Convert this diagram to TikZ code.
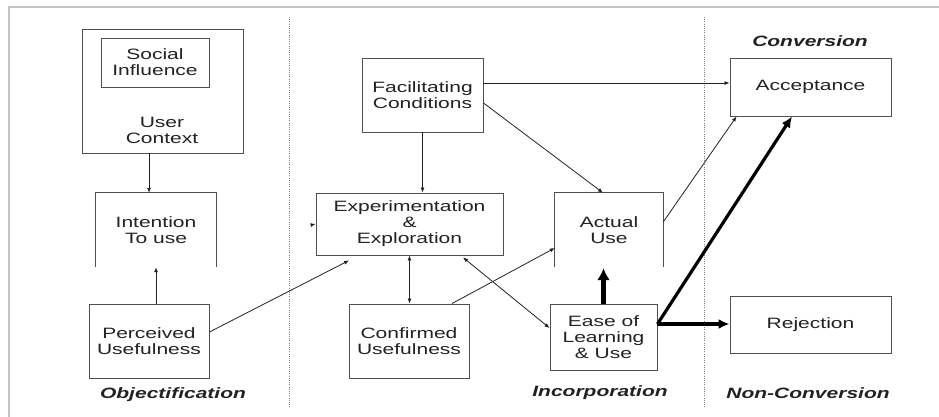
\documentclass[tikz,border=0pt]{standalone}
\usepackage{fontspec}
\setmainfont{Liberation Sans}[FakeStretch=1.4]
\usetikzlibrary{arrows.meta}
\definecolor{ink}{HTML}{222222}
\definecolor{edge}{HTML}{505050}
\definecolor{rule}{HTML}{C4C4C4}
\begin{document}
\begin{tikzpicture}[x=1pt,y=-1pt,
  txt/.style={text=ink,font=\fontsize{15}{16}\selectfont,align=center,inner sep=0pt},
  box/.style={txt,draw=edge,line width=0.9pt,minimum width=#1},
  openbox/.style={txt,minimum width=#1},
  phase/.style={text=ink,font=\fontsize{15}{16}\selectfont\bfseries\itshape,inner sep=0pt},
  arr/.style={draw=ink,line width=0.8pt,-{Latex[length=5pt,width=4pt]}},
  darr/.style={draw=ink,line width=0.8pt,{Latex[length=5pt,width=4pt]}-{Latex[length=5pt,width=4pt]}},
  bold/.style={draw=black,line width=3.2pt,-{Latex[length=11pt,width=10pt]}},
  boldup/.style={draw=black,line width=4.5pt,-{Latex[length=12pt,width=13pt]}},
  divider/.style={draw=gray,line width=0.7pt,dash pattern=on 1pt off 1.2pt}]
\useasboundingbox (0,0) rectangle (939,416);
\fill[white] (0,0) rectangle (939,416);
% outer frame (top and left edges)
\draw[rule,line width=2pt] (8.5,430) -- (8.5,6.5) -- (950,6.5);
% phase dividers
\draw[divider] (289,17) -- (289,408);
\draw[divider] (704,17) -- (704,408);

% objectification column
\node[box=161pt,minimum height=124pt] (usr) at (162.5,91) {};
\node[box=108pt,minimum height=49pt] (soc) at (155,62.5) {Social\\Influence};
\node[txt] (usrlbl) at (162,130) {User\\Context};
\node[openbox=120pt,minimum height=74pt] (int) at (156,230) {Intention\\To use};
\draw[edge,line width=0.9pt] (int.south west) -- (int.north west) -- (int.north east) -- (int.south east);
\node[box=120pt,minimum height=74pt] (percv) at (149,341) {Perceived\\Usefulness};
\node[phase] (objlbl) at (173,395) {Objectification};

% incorporation column
\node[box=121pt,minimum height=74pt] (fc) at (422.5,95) {Facilitating\\Conditions};
\node[box=187pt,minimum height=62pt] (exp) at (409.5,224) {Experimentation\\\&\\Exploration};
\node[openbox=108pt,minimum height=74pt] (act) at (609,230) {Actual\\Use};
\draw[edge,line width=0.9pt] (act.south west) -- (act.north west) -- (act.north east) -- (act.south east);
\node[box=120pt,minimum height=74pt] (conf) at (409,341) {Confirmed\\Usefulness};
\node[box=107pt,minimum height=66pt] (ease) at (603.5,337) {Ease of\\Learning\\\& Use};
\node[phase] (inclbl) at (600,393) {Incorporation};

% conversion column
\node[box=161pt,minimum height=58pt] (acc) at (810.5,87) {Acceptance};
\node[box=161pt,minimum height=57pt] (rej) at (810.5,324.5) {Rejection};
\node[phase] (convlbl) at (810,41) {Conversion};
\node[phase] (nconvlbl) at (808,393) {Non-Conversion};

% connectors
\coordinate (fcA) at ([yshift=12pt]fc.east);
\coordinate (easeR) at ([yshift=13pt]ease.east);
\coordinate (stub) at (311,225);
\draw[arr] ([xshift=-13.5pt]usr.south) -- ([xshift=-7pt]int.north);
\draw[arr] ([xshift=7pt]percv.north) -- (int.south);
\draw[arr] ([yshift=9pt]percv.east) -- ([xshift=-60.5pt,yshift=-5pt]exp.south);
\draw[arr] (stub) -- (exp.west);
\draw[arr] (fc.south) -- (fc.south |- exp.north);
\draw[arr] (fcA) -- (fcA -| acc.west);
\draw[arr] ([yshift=-8pt]fc.east) -- ([xshift=-6pt]act.north);
\draw[arr] ([yshift=8pt]act.east) -- ([xshift=7pt]acc.south west);
\draw[darr] (exp.south) -- (exp.south |- conf.north);
\draw[arr] ([xshift=43pt]conf.north) -- ([yshift=-18pt]act.west);
\draw[darr] ([xshift=53.5pt,yshift=-2pt]exp.south) -- ([yshift=9pt]ease.west);
\draw[boldup] (ease.north) -- ([yshift=-1pt]ease.north |- act.south);
\draw[bold] (easeR) -- ([xshift=-18.5pt]acc.south);
\draw[bold] (easeR) -- (easeR -| rej.west);
\end{tikzpicture}
\end{document}
